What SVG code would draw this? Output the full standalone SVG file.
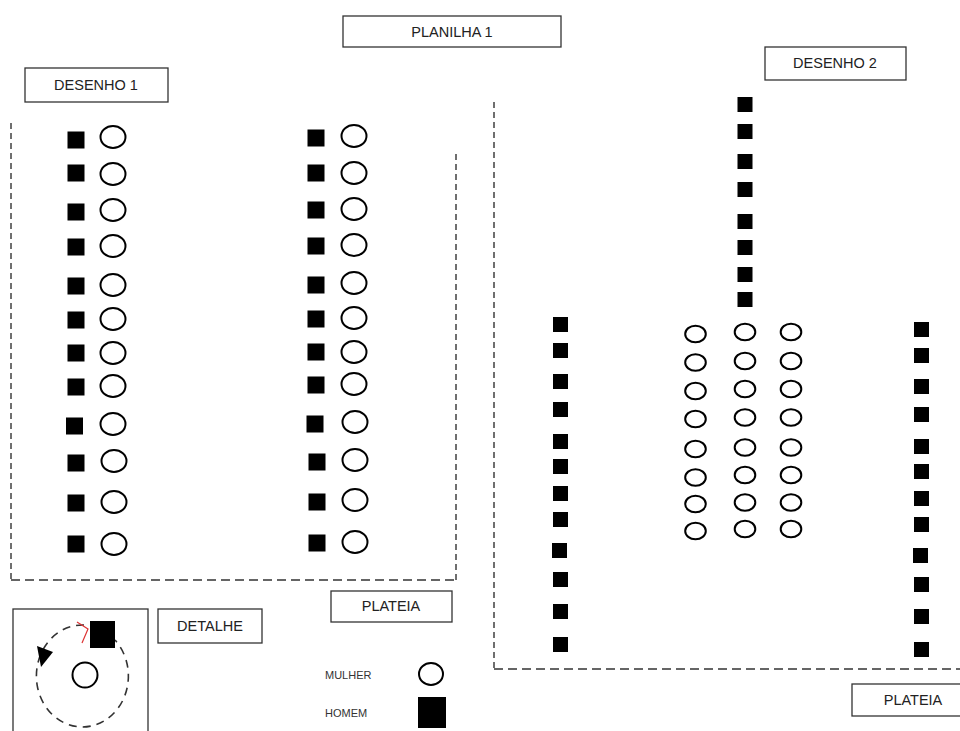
<svg xmlns="http://www.w3.org/2000/svg" xmlns:xlink="http://www.w3.org/1999/xlink" width="960" height="731" viewBox="0 0 960 731">
<style>
.box{fill:#fff;stroke:#333;stroke-width:1.3}
.lbl{font-family:"Liberation Sans",Arial,sans-serif;font-size:14.5px;fill:#222;text-anchor:middle;dominant-baseline:central}
.sm{font-family:"Liberation Sans",Arial,sans-serif;font-size:11px;fill:#333;dominant-baseline:central}
.h{fill:#000}
.m{fill:none;stroke:#000;stroke-width:2}
.dash{fill:none;stroke:#333;stroke-width:1.4;stroke-dasharray:9 5}
.dashv{fill:none;stroke:#333;stroke-width:1.4;stroke-dasharray:6 4}
</style>
<defs>
<rect id="sq" class="h" x="-8.5" y="-8.5" width="17" height="17"/>
<ellipse id="ci" class="m" cx="0" cy="0" rx="12.5" ry="11"/>
<rect id="sq2" class="h" x="-7.5" y="-7.5" width="15" height="15"/>
<ellipse id="ci2" class="m" cx="0" cy="0" rx="10.3" ry="8.3"/>
</defs>
<rect width="960" height="731" fill="#fff"/>

<g id="connectors">
<path class="dashv" d="M11 123V580"/>
<path class="dash" d="M11 580H456"/>
<path class="dashv" d="M456 154V580"/>
<path class="dashv" d="M494 102V669"/>
<path class="dash" d="M494 669H960"/>
</g>

<g id="planilha1"><rect class="box" x="343" y="16" width="218" height="31"/><text class="lbl" x="452" y="31.5">PLANILHA 1</text></g>
<g id="desenho1"><rect class="box" x="25" y="68" width="143" height="34"/><text class="lbl" x="96" y="85">DESENHO 1</text></g>
<g id="desenho2"><rect class="box" x="765" y="47" width="141" height="33"/><text class="lbl" x="835" y="63">DESENHO 2</text></g>
<g id="plateia1"><rect class="box" x="331" y="591" width="121" height="31"/><text class="lbl" x="391" y="606">PLATEIA</text></g>
<g id="plateia2"><rect class="box" x="852" y="684" width="120" height="32"/><text class="lbl" x="913" y="700">PLATEIA</text></g>
<g id="detalhe-label"><rect class="box" x="158" y="609" width="104" height="34"/><text class="lbl" x="210" y="626">DETALHE</text></g>

<g id="detalhe">
<rect class="box" x="13" y="609" width="135" height="130"/>
<path d="M84 625A46 51 0 1 0 115 640" fill="none" stroke="#333" stroke-width="1.6" stroke-dasharray="8 6"/>
<path d="M37 646L53 652L41 667Z" fill="#000"/>
<path d="M77 622L88 629L82 643" fill="none" stroke="#d33" stroke-width="1.2"/>
<rect class="h" x="90" y="621" width="25" height="27"/>
<ellipse class="m" cx="85" cy="675" rx="12.5" ry="12.5"/>
</g>

<g id="legenda">
<text class="sm" x="325" y="675">MULHER</text>
<ellipse class="m" cx="431" cy="674" rx="12" ry="11"/>
<text class="sm" x="325" y="713">HOMEM</text>
<rect class="h" x="418" y="697" width="28" height="31"/>
</g>

<g id="desenho1-assentos">
<use href="#sq" x="76" y="140"/><use href="#ci" x="113" y="137"/>
<use href="#sq" x="76" y="173"/><use href="#ci" x="113" y="174"/>
<use href="#sq" x="76" y="212"/><use href="#ci" x="113" y="210"/>
<use href="#sq" x="76" y="247"/><use href="#ci" x="113" y="246"/>
<use href="#sq" x="76" y="286"/><use href="#ci" x="113" y="285"/>
<use href="#sq" x="76" y="320"/><use href="#ci" x="113" y="319"/>
<use href="#sq" x="76" y="353"/><use href="#ci" x="113" y="353"/>
<use href="#sq" x="76" y="387"/><use href="#ci" x="113" y="386"/>
<use href="#sq" x="74.5" y="426"/><use href="#ci" x="113" y="424"/>
<use href="#sq" x="76" y="463"/><use href="#ci" x="114" y="461"/>
<use href="#sq" x="76" y="503"/><use href="#ci" x="114" y="502"/>
<use href="#sq" x="76" y="544"/><use href="#ci" x="114" y="544"/>

<use href="#sq" x="316" y="138"/><use href="#ci" x="354" y="136"/>
<use href="#sq" x="316" y="173"/><use href="#ci" x="354" y="173"/>
<use href="#sq" x="316" y="210"/><use href="#ci" x="354" y="209"/>
<use href="#sq" x="316" y="246"/><use href="#ci" x="354" y="245"/>
<use href="#sq" x="316" y="285"/><use href="#ci" x="354" y="283"/>
<use href="#sq" x="316" y="319"/><use href="#ci" x="354" y="318"/>
<use href="#sq" x="316" y="352"/><use href="#ci" x="354" y="352"/>
<use href="#sq" x="316" y="385"/><use href="#ci" x="354" y="384"/>
<use href="#sq" x="315" y="424"/><use href="#ci" x="355" y="422"/>
<use href="#sq" x="317" y="462"/><use href="#ci" x="355" y="460"/>
<use href="#sq" x="317" y="502"/><use href="#ci" x="355" y="500"/>
<use href="#sq" x="317" y="543"/><use href="#ci" x="355" y="542"/>
</g>

<g id="desenho2-assentos">
<use href="#sq2" x="745" y="104.5"/>
<use href="#sq2" x="745" y="131.5"/>
<use href="#sq2" x="745" y="161.5"/>
<use href="#sq2" x="745" y="189.5"/>
<use href="#sq2" x="745" y="221.5"/>
<use href="#sq2" x="745" y="247.5"/>
<use href="#sq2" x="745" y="274.5"/>
<use href="#sq2" x="745" y="299.5"/>

<use href="#sq2" x="560.5" y="324.5"/>
<use href="#sq2" x="560.5" y="350.5"/>
<use href="#sq2" x="560.5" y="381.5"/>
<use href="#sq2" x="560.5" y="409.5"/>
<use href="#sq2" x="560.5" y="441.5"/>
<use href="#sq2" x="560.5" y="466.5"/>
<use href="#sq2" x="560.5" y="493.5"/>
<use href="#sq2" x="560.5" y="519.5"/>
<use href="#sq2" x="559.5" y="550.5"/>
<use href="#sq2" x="560.5" y="579.5"/>
<use href="#sq2" x="560.5" y="611.5"/>
<use href="#sq2" x="560.5" y="644.5"/>

<use href="#sq2" x="921.5" y="329.5"/>
<use href="#sq2" x="921.5" y="355.5"/>
<use href="#sq2" x="921.5" y="386.5"/>
<use href="#sq2" x="921.5" y="414.5"/>
<use href="#sq2" x="921.5" y="446.5"/>
<use href="#sq2" x="921.5" y="471.5"/>
<use href="#sq2" x="921.5" y="498.5"/>
<use href="#sq2" x="921.5" y="524.5"/>
<use href="#sq2" x="920.5" y="555.5"/>
<use href="#sq2" x="921.5" y="584.5"/>
<use href="#sq2" x="921.5" y="616.5"/>
<use href="#sq2" x="921.5" y="649.5"/>

<use href="#ci2" x="695.5" y="334"/>
<use href="#ci2" x="695.5" y="362.5"/>
<use href="#ci2" x="695.5" y="391"/>
<use href="#ci2" x="695.5" y="419"/>
<use href="#ci2" x="695.5" y="449"/>
<use href="#ci2" x="695.5" y="477.5"/>
<use href="#ci2" x="695.5" y="504"/>
<use href="#ci2" x="695.5" y="531"/>

<use href="#ci2" x="745" y="332"/>
<use href="#ci2" x="745" y="361"/>
<use href="#ci2" x="745" y="389"/>
<use href="#ci2" x="745" y="417.5"/>
<use href="#ci2" x="745" y="447.5"/>
<use href="#ci2" x="745" y="475"/>
<use href="#ci2" x="745" y="502.5"/>
<use href="#ci2" x="745" y="529"/>

<use href="#ci2" x="791" y="332"/>
<use href="#ci2" x="791" y="361"/>
<use href="#ci2" x="791" y="389"/>
<use href="#ci2" x="791" y="417.5"/>
<use href="#ci2" x="791" y="447.5"/>
<use href="#ci2" x="791" y="475"/>
<use href="#ci2" x="791" y="502.5"/>
<use href="#ci2" x="791" y="529"/>
</g>
</svg>
